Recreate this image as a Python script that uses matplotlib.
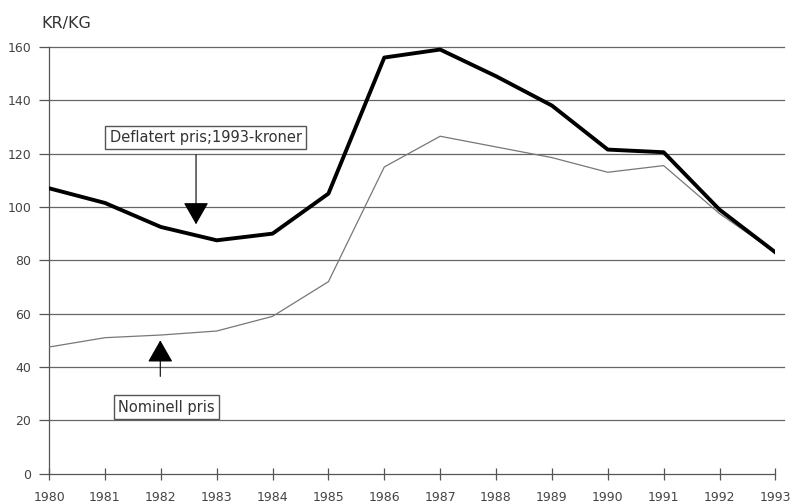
import numpy as np
import matplotlib.pyplot as plt

# Pris i kr/kg, 1980-1993
years = list(range(1980, 1994))
deflatert = [107, 101.5, 92.5, 87.5, 90, 105, 156, 159, 149, 138, 121.5, 120.5, 99, 83]
nominell = [47.5, 51, 52, 53.5, 59, 72, 115, 126.5, 122.5, 118.5, 113, 115.5, 97.5, 83]
yticks = [0, 20, 40, 60, 80, 100, 120, 140, 160]

plt.rcParams['font.family'] = ['DejaVu Sans']

fig = plt.figure(figsize=(7.92, 5.04), dpi=100)
ax = fig.add_axes([0.062, 0.06, 0.917, 0.847])

for t in yticks[1:]:
    ax.axhline(t, color='#666666', lw=0.9, xmin=0, xmax=1.012, clip_on=False, zorder=1)

ax.plot(years, nominell, color='#777777', lw=0.9, zorder=3)
ax.plot(years, deflatert, color='black', lw=2.8, zorder=4)

ax.set_xlim(1980, 1993)
ax.set_ylim(0, 160)
ax.set_xticks(years)
ax.set_yticks(yticks)
ax.tick_params(axis='x', direction='inout', length=9, width=0.9, color='#555555',
               labelsize=9, labelcolor='#444444', pad=8)
ax.tick_params(axis='y', direction='out', length=7, width=0.9, color='#555555',
               labelsize=9, labelcolor='#444444', pad=6)
for s in ['top', 'right']:
    ax.spines[s].set_visible(False)
for s in ['left', 'bottom']:
    ax.spines[s].set_color('#555555')
    ax.spines[s].set_linewidth(0.9)

fig.text(0.052, 0.945, 'KR/KG', fontsize=11.5, color='#333333')

box = dict(boxstyle='square,pad=0.3', fc='white', ec='#555555', lw=1.0)
head = dict(arrowstyle='-|>,head_width=0.8,head_length=1.4', color='black', lw=0.8,
            shrinkA=0, shrinkB=0)

ax.annotate('', xy=(1982.63, 93.5), xytext=(1982.63, 119.5), arrowprops=head, zorder=5)
ax.text(1982.8, 126, 'Deflatert pris;1993-kroner', fontsize=10.5, color='#333333',
        ha='center', va='center', bbox=box, zorder=6)

ax.annotate('', xy=(1981.99, 50), xytext=(1981.99, 36.5), arrowprops=head, zorder=5)
ax.text(1982.1, 25, 'Nominell pris', fontsize=10.5, color='#333333',
        ha='center', va='center', bbox=box, zorder=6)

fig.savefig('out.png', dpi=100)
